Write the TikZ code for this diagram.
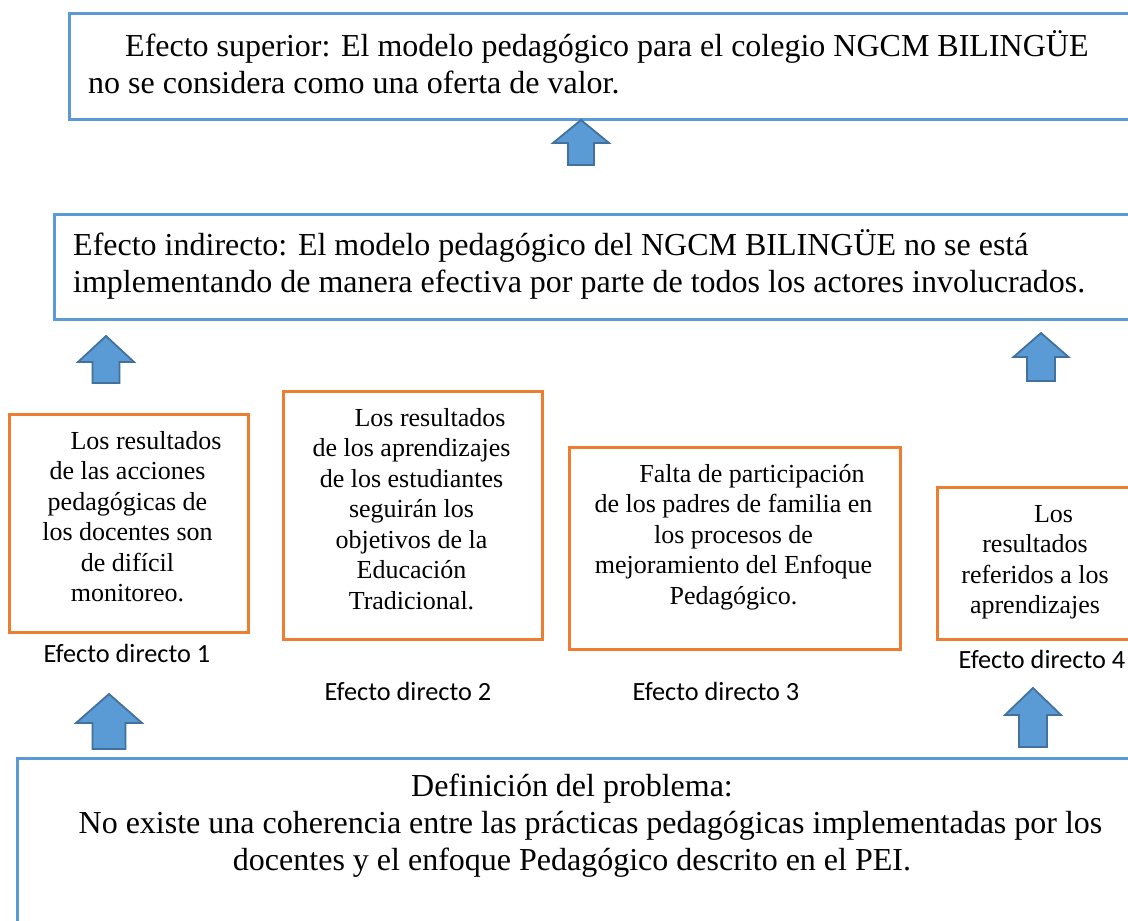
\documentclass[tikz,border=0pt]{standalone}
\usepackage{fontspec}
\setmainfont{Liberation Serif}
\newfontfamily\calibri{Carlito}
\definecolor{boxblue}{HTML}{5B9BD5}
\definecolor{arrowedge}{HTML}{41719C}
\definecolor{boxorange}{HTML}{ED7D31}
\newcommand\mystrut{\rule{0pt}{30pt}}
\newcommand\findent{\hspace*{37pt}}
\newcommand\blockarrow[6]{%
  \draw[uparrow] (#1,#2) -- ({#1+#5},#3) -- ({#1+#6},#3) -- ({#1+#6},#4)
    -- ({#1-#6},#4) -- ({#1-#6},#3) -- ({#1-#5},#3) -- cycle;}
\tikzset{
  bluebox/.style={draw=boxblue, line width=2.6pt, rectangle, inner sep=0pt, anchor=north west},
  orangebox/.style={draw=boxorange, line width=2.6pt, rectangle, inner sep=0pt, anchor=north west},
  bigtext/.style={font=\fontsize{32}{37}\selectfont, inner sep=0pt},
  smalltext/.style={font=\fontsize{26}{30.5}\selectfont, align=center, inner sep=0pt, anchor=north},
  lbl/.style={font=\calibri\fontsize{26.3}{30}\selectfont, inner sep=0pt, anchor=base},
  uparrow/.style={fill=boxblue, draw=arrowedge, line width=1.8pt, line join=miter},
}
\begin{document}
\begin{tikzpicture}[x=1pt,y=-1pt]
\useasboundingbox (0,0) rectangle (1128,921);
\clip (0,0) rectangle (1128,921);
\fill[white] (0,0) rectangle (1128,921);

% blue boxes
\node[bluebox, minimum width=1100pt, minimum height=106pt] (top) at (68,12) {};
\node[bluebox, minimum width=1100pt, minimum height=105pt] (indirect) at (53,213) {};
\node[bluebox, minimum width=1124pt, minimum height=200pt] (problem) at (16,757) {};

% orange boxes
\node[orangebox, minimum width=239pt, minimum height=218pt] (d1) at (8,413) {};
\node[orangebox, minimum width=259pt, minimum height=248pt] (d2) at (282,390) {};
\node[orangebox, minimum width=331pt, minimum height=202pt] (d3) at (568,446) {};
\node[orangebox, minimum width=200pt, minimum height=152pt] (d4) at (936,486) {};

% texts of blue boxes
\node[bigtext, align=left, anchor=north west] (ttop) at (88,26)
  {\mystrut\findent Efecto superior: El modelo pedagógico para el colegio NGCM BILINGÜE\\no se considera como una oferta de valor.};
\node[bigtext, align=left, anchor=north west] (tindirect) at (73,225)
  {\mystrut Efecto indirecto: El modelo pedagógico del NGCM BILINGÜE no se está\\implementando de manera efectiva por parte de todos los actores involucrados.};
\node[bigtext, align=center, anchor=north] (tproblem) at (572,766)
  {\mystrut Definición del problema:\\\findent No existe una coherencia entre las prácticas pedagógicas implementadas por los\\docentes y el enfoque Pedagógico descrito en el PEI.};

% texts of orange boxes
\node[smalltext] (td1) at (127.5,419)
  {\mystrut\findent Los resultados\\de las acciones\\pedagógicas de\\los docentes son\\de difícil\\monitoreo.};
\node[smalltext] (td2) at (411.5,396)
  {\mystrut\findent Los resultados\\de los aprendizajes\\de los estudiantes\\seguirán los\\objetivos de la\\Educación\\Tradicional.};
\node[smalltext] (td3) at (733.5,452)
  {\mystrut\findent Falta de participación\\de los padres de familia en\\los procesos de\\mejoramiento del Enfoque\\Pedagógico.};
\node[smalltext] (td4) at (1035,492)
  {\mystrut\findent Los\\resultados\\referidos a los\\aprendizajes};

% labels
\node[lbl] (l1) at (127,662) {Efecto directo 1};
\node[lbl] (l2) at (408,700) {Efecto directo 2};
\node[lbl] (l3) at (716,700) {Efecto directo 3};
\node[lbl] (l4) at (1042,668) {Efecto directo 4};

% block arrows
\blockarrow{581}{120}{143}{165}{28}{13}
\blockarrow{106}{336}{362}{383}{28}{13.5}
\blockarrow{1041}{333}{357}{381}{27.5}{14}
\blockarrow{109}{694}{723}{749}{33}{16.5}
\blockarrow{1033}{688}{715}{747}{28}{14}
\end{tikzpicture}
\end{document}
